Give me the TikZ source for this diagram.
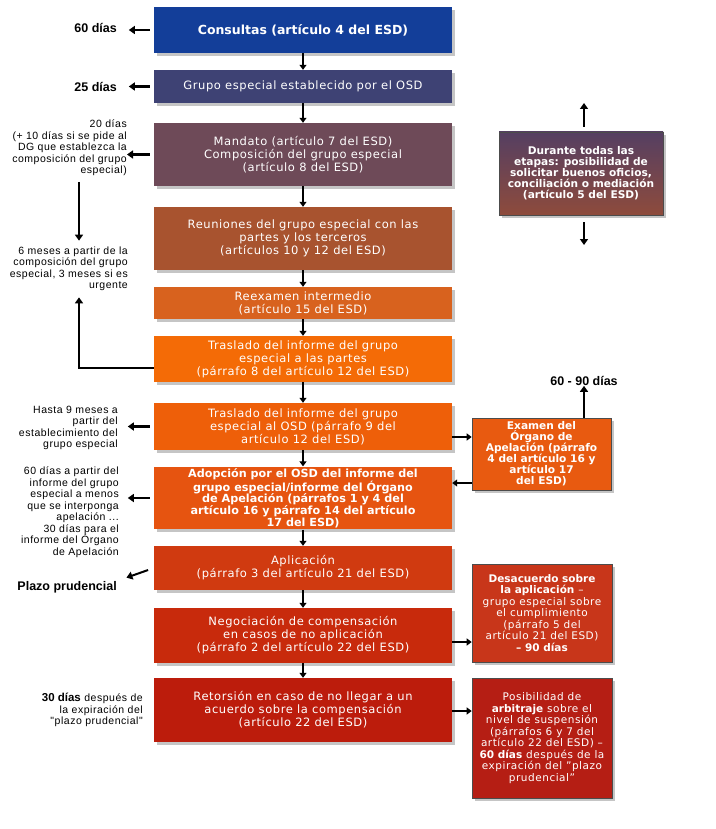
\documentclass[tikz,border=0pt]{standalone}
\usepackage{fontspec}
\setmainfont{DejaVu Sans}[LetterSpace=5, BoldFeatures={LetterSpace=0}]
\newfontfamily\etiq{Liberation Sans}[LetterSpace=5, BoldFeatures={LetterSpace=0}]
\usetikzlibrary{arrows.meta,shadows}

\definecolor{cConsultas}{HTML}{133E99}
\definecolor{cGrupo}{HTML}{3E4274}
\definecolor{cMandato}{HTML}{6E4A58}
\definecolor{cReuniones}{HTML}{A8532F}
\definecolor{cReexamen}{HTML}{D8621E}
\definecolor{cPartes}{HTML}{F46B06}
\definecolor{cOSD}{HTML}{EE5F09}
\definecolor{cAdopcion}{HTML}{E65410}
\definecolor{cAplicacion}{HTML}{D03A10}
\definecolor{cNegociacion}{HTML}{C82A0C}
\definecolor{cRetorsion}{HTML}{BC1C0C}
\definecolor{cDurA}{HTML}{553F62}
\definecolor{cDurB}{HTML}{8E4B3C}
\definecolor{cExamen}{HTML}{E85A10}
\definecolor{cDesacuerdo}{HTML}{C8361A}
\definecolor{cPosibilidad}{HTML}{B51E14}

\tikzset{
    caja/.style={text=white, align=center, inner sep=2pt,
        font=\fontsize{11.5}{13}\selectfont,
        drop shadow={shadow xshift=3pt, shadow yshift=-3pt, fill=black!45}},
    cajanegrita/.style={caja, font=\bfseries\fontsize{11.2}{11.6}\selectfont},
    lateral/.style={caja, draw=black!70, line width=0.6pt},
    etiqueta/.style={anchor=east, align=right, inner sep=0pt,
        font=\etiq\fontsize{10.5}{11.5}\selectfont},
    plazo/.style={etiqueta, font=\etiq\bfseries\fontsize{12.5}{13}\selectfont},
    flecha/.style={line width=2.5pt, -{Triangle[width=8pt,length=6pt]}},
    enlace/.style={line width=1.8pt, -{Triangle[width=7pt,length=5pt]}}
}

\begin{document}
\begin{tikzpicture}[x=1pt, y=-1pt]
        \useasboundingbox[fill=white] (0,0) rectangle (715,829);

        % columna central
        \node[caja, fill=cConsultas, minimum width=298pt, minimum height=46pt,
            font=\bfseries\fontsize{12.5}{13}\selectfont] (consultas) at (303,30) {Consultas (artículo 4 del ESD)};
        \node[caja, fill=cGrupo, minimum width=298pt, minimum height=33pt] (grupo) at (303,86.5) {Grupo especial establecido por el OSD};
        \node[caja, fill=cMandato, minimum width=298pt, minimum height=63pt] (mandato) at (303,154.5)
            {Mandato (artículo 7 del ESD)\\Composición del grupo especial\\(artículo 8 del ESD)};
        \node[caja, fill=cReuniones, minimum width=298pt, minimum height=63pt] (reuniones) at (303,238.5)
            {Reuniones del grupo especial con las\\partes y los terceros\\(artículos 10 y 12 del ESD)};
        \node[caja, fill=cReexamen, minimum width=298pt, minimum height=32pt] (reexamen) at (303,303)
            {Reexamen intermedio\\(artículo 15 del ESD)};
        \node[caja, fill=cPartes, minimum width=298pt, minimum height=46pt] (partes) at (303,359)
            {Traslado del informe del grupo\\especial a las partes\\(párrafo 8 del artículo 12 del ESD)};
        \node[caja, fill=cOSD, minimum width=298pt, minimum height=47pt] (osd) at (303,426.5)
            {Traslado del informe del grupo\\especial al OSD (párrafo 9 del\\artículo 12 del ESD)};
        \node[cajanegrita, fill=cAdopcion, minimum width=298pt, minimum height=58pt] (adopcion) at (303,498)
            {Adopción por el OSD del informe del\\grupo especial/informe del Órgano\\de Apelación (párrafos 1 y 4 del\\artículo 16 y párrafo 14 del artículo\\17 del ESD)};
        \node[caja, fill=cAplicacion, minimum width=298pt, minimum height=44pt] (aplicacion) at (303,568)
            {Aplicación\\(párrafo 3 del artículo 21 del ESD)};
        \node[caja, fill=cNegociacion, minimum width=298pt, minimum height=55pt] (negociacion) at (303,635.5)
            {Negociación de compensación\\en casos de no aplicación\\(párrafo 2 del artículo 22 del ESD)};
        \node[caja, fill=cRetorsion, minimum width=298pt, minimum height=64pt] (retorsion) at (303,710)
            {Retorsión en caso de no llegar a un\\acuerdo sobre la compensación\\(artículo 22 del ESD)};

        % enlaces verticales
        \draw[enlace] (consultas.south) -- (grupo.north);
        \draw[enlace] (grupo.south) -- (mandato.north);
        \draw[enlace] (mandato.south) -- (reuniones.north);
        \draw[enlace] (reuniones.south) -- (reexamen.north);
        \draw[enlace] (reexamen.south) -- (partes.north);
        \draw[enlace] (partes.south) -- (osd.north);
        \draw[enlace] (osd.south) -- (adopcion.north);
        \draw[enlace] (adopcion.south) -- (aplicacion.north);
        \draw[enlace] (aplicacion.south) -- (negociacion.north);
        \draw[enlace] (negociacion.south) -- (retorsion.north);

        % plazos a la izquierda
        \node[plazo] (l60) at (117,28) {60 días};
        \node[plazo] (l25) at (117,87) {25 días};
        \node[etiqueta] (l20) at (127,148) {20 días\\(+ 10 días si se pide al\\DG que establezca la\\composición del grupo\\especial)};
        \node[etiqueta] (l6m) at (128,269) {6 meses a partir de la\\composición del grupo\\especial, 3 meses si es\\urgente};
        \node[etiqueta] (l9m) at (118,428) {Hasta 9 meses a\\partir del\\establecimiento del\\grupo especial};
        \node[etiqueta] (l60b) at (119,512) {60 días a partir del\\informe del grupo\\especial a menos\\que se interponga\\apelación ...\\30 días para el\\informe del Órgano\\de Apelación};
        \node[plazo] (lplazo) at (117,587) {Plazo prudencial};
        \node[etiqueta] (l30) at (143,710) {\textbf{\fontsize{11.5}{11.5}\selectfont 30 días} después de\\la expiración del\\"plazo prudencial"};

        \draw[flecha, shorten <=4pt] (consultas.west) -- ([xshift=-25pt]consultas.west);
        \draw[flecha, shorten <=4pt] (grupo.west) -- ([xshift=-25pt]grupo.west);
        \draw[flecha, shorten <=4pt] (mandato.west) -- (mandato.west -| l20.east);
        \draw[flecha, shorten <=4pt] (osd.west) -- ([xshift=-26pt]osd.west);
        \draw[flecha, shorten <=4pt] (adopcion.west) -- ([xshift=-26pt]adopcion.west);
        \draw[flecha, line width=2pt, shorten <=6pt, shorten >=10pt] (aplicacion.west) -- (lplazo.north east);

        % 6 meses
        \coordinate (baja) at (79,182);
        \draw[flecha] (baja) -- ([yshift=6pt]l6m.north -| baja);
        \draw[flecha] ([yshift=-9pt]partes.west) -| ([yshift=-6pt]l6m.south -| baja);

        % columna derecha
        \node[lateral, top color=cDurA, bottom color=cDurB, minimum width=164pt, minimum height=83pt,
            font=\bfseries\fontsize{10.6}{11}\selectfont] (durante) at (581,173.5)
            {Durante todas las\\etapas: posibilidad de\\solicitar buenos oficios,\\conciliación o mediación\\(artículo 5 del ESD)};
        \coordinate (arriba) at (584,103);
        \coordinate (abajo) at (584,245);
        \draw[flecha, line width=2pt, shorten <=5pt] (durante.north -| arriba) -- (arriba);
        \draw[flecha, line width=2pt, shorten <=7pt] (durante.south -| abajo) -- (abajo);

        \node[lateral, fill=cExamen, minimum width=139pt, minimum height=72pt,
            font=\bfseries\fontsize{10.6}{11}\selectfont] (examen) at (541.5,454)
            {Examen del\\Órgano de\\Apelación (párrafo\\4 del artículo 16 y\\artículo 17\\del ESD)};
        \node[plazo, anchor=center] (l6090) at (584,381) {60 - 90 días};
        \draw[flecha, line width=2pt] (examen.north -| l6090) -- (l6090.south);
        \draw[enlace] ([yshift=-10.5pt]osd.east) -- ([yshift=-10.5pt]osd.east -| examen.west);
        \draw[enlace] ([yshift=-29pt]examen.west) -- ([yshift=-29pt]examen.west -| adopcion.east);

        \node[lateral, fill=cDesacuerdo, minimum width=140pt, minimum height=98pt,
            font=\fontsize{10.5}{11.5}\selectfont] (desacuerdo) at (542,613)
            {\textbf{Desacuerdo sobre}\\\textbf{la aplicación} –\\grupo especial sobre\\el cumplimiento\\(párrafo 5 del\\artículo 21 del ESD)\\\textbf{– 90 días}};
        \draw[enlace] ([yshift=-6.5pt]negociacion.east) -- ([yshift=-6.5pt]negociacion.east -| desacuerdo.west);

        \node[lateral, fill=cPosibilidad, minimum width=140pt, minimum height=120pt,
            font=\fontsize{10.5}{11.5}\selectfont] (posibilidad) at (542,738)
            {Posibilidad de\\\textbf{arbitraje} sobre el\\nivel de suspensión\\(párrafos 6 y 7 del\\artículo 22 del ESD) –\\\textbf{60 días} después de la\\expiración del "plazo\\prudencial"};
        \draw[enlace] ([yshift=-1pt]retorsion.east) -- ([yshift=-1pt]retorsion.east -| posibilidad.west);
    \end{tikzpicture}
\end{document}
